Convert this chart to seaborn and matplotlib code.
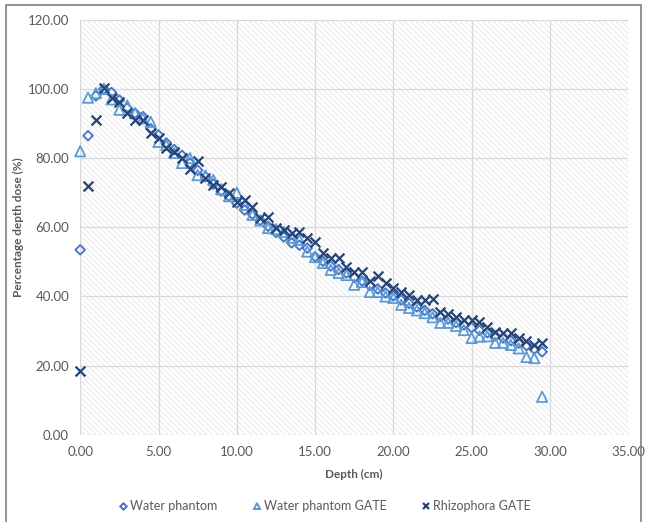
import numpy as np
import pandas as pd
import seaborn as sns
import matplotlib.pyplot as plt
from matplotlib.patches import Rectangle
from matplotlib.lines import Line2D

depth = [0.0, 0.5, 1.0, 1.5, 2.0, 2.5, 3.0, 3.5, 4.0, 4.5,
         5.0, 5.5, 6.0, 6.5, 7.0, 7.5, 8.0, 8.5, 9.0, 9.5,
         10.0, 10.5, 11.0, 11.5, 12.0, 12.5, 13.0, 13.5, 14.0, 14.5,
         15.0, 15.5, 16.0, 16.5, 17.0, 17.5, 18.0, 18.5, 19.0, 19.5,
         20.0, 20.5, 21.0, 21.5, 22.0, 22.5, 23.0, 23.5, 24.0, 24.5,
         25.0, 25.5, 26.0, 26.5, 27.0, 27.5, 28.0, 28.5, 29.0, 29.5]

water = [53.5, 86.5, 98.0, 100.0, 99.0, 96.8, 94.5, 93.0, 92.0, 88.5,
         86.7, 84.4, 82.5, 80.8, 78.6, 76.5, 74.6, 72.5, 70.5, 69.0,
         67.0, 65.0, 63.8, 62.0, 60.3, 58.5, 57.2, 55.5, 54.8, 54.0,
         51.5, 50.2, 48.8, 47.8, 46.8, 45.5, 44.5, 43.2, 42.2, 41.0,
         40.2, 39.0, 38.0, 37.0, 36.0, 35.0, 34.2, 33.5, 32.5, 31.8,
         31.0, 30.2, 29.5, 28.6, 28.0, 27.2, 26.5, 25.8, 24.8, 24.0]

water_gate = [82.0, 97.5, 98.8, 100.0, 97.0, 94.0, 95.2, 93.0, 91.5, 90.5,
              84.7, 83.8, 81.5, 78.6, 80.0, 75.1, 75.0, 73.7, 71.0, 69.0,
              70.0, 66.5, 63.6, 62.0, 59.8, 59.5, 58.7, 57.0, 56.4, 53.0,
              51.4, 49.7, 47.7, 46.8, 46.2, 43.4, 44.2, 41.3, 41.3, 40.0,
              39.6, 37.6, 36.7, 36.0, 35.2, 34.0, 32.4, 32.4, 31.5, 30.3,
              28.0, 28.4, 28.5, 26.6, 26.6, 26.0, 25.0, 22.5, 22.2, 11.0]

rhizophora = [18.5, 72.0, 91.0, 100.3, 97.4, 96.3, 93.0, 91.0, 91.0, 87.3,
              85.8, 83.0, 81.8, 80.0, 77.0, 79.3, 74.3, 72.3, 71.7, 70.0,
              67.3, 68.0, 66.0, 62.7, 63.0, 59.8, 59.2, 58.4, 58.7, 57.0,
              55.8, 52.6, 51.0, 51.0, 48.5, 47.0, 47.0, 44.5, 46.0, 44.0,
              42.5, 41.3, 40.5, 39.0, 39.0, 39.3, 35.5, 34.8, 34.0, 33.2,
              33.2, 32.7, 31.2, 29.8, 29.5, 29.5, 28.0, 27.0, 26.0, 26.6]

df = pd.DataFrame({'depth': depth, 'water': water,
                   'water_gate': water_gate, 'rhizophora': rhizophora})

c_water = '#4472C4'
c_gate = '#5B9BD5'
c_rhiz = '#264478'
txt = '#595959'

sns.set_style('white')
plt.rcParams['font.family'] = ['Lato', 'DejaVu Sans']
plt.rcParams['hatch.linewidth'] = 0.5

fig = plt.figure(figsize=(6.47, 5.22), dpi=100)
ax = fig.add_axes([0.124, 0.167, 0.847, 0.795])

# hatched plot area
ax.add_patch(Rectangle((0, 0), 1, 1, transform=ax.transAxes, facecolor='white',
                       edgecolor='#e2e2e2', hatch='\\\\\\\\\\\\', linewidth=0, zorder=0))

kw = dict(ax=ax, zorder=3, clip_on=False)
sns.scatterplot(data=df, x='depth', y='water', marker='D', s=24,
                facecolors='none', edgecolor=c_water, linewidth=1.3, **kw)
sns.scatterplot(data=df, x='depth', y='water_gate', marker='^', s=55,
                facecolors='none', edgecolor=c_gate, linewidth=1.3, **kw)
sns.scatterplot(data=df, x='depth', y='rhizophora', marker='x', s=50,
                color=c_rhiz, linewidth=1.6, **kw)

ax.set_xlim(0, 35)
ax.set_ylim(0, 120)
ax.set_xticks(np.arange(0, 36, 5))
ax.set_yticks(np.arange(0, 121, 20))
ax.set_xticklabels([f'{v:.2f}' for v in np.arange(0, 36, 5)])
ax.set_yticklabels([f'{v:.2f}' for v in np.arange(0, 121, 20)])
ax.grid(True, color='#d9d9d9', linewidth=0.9)
ax.set_axisbelow(True)
for s in ax.spines.values():
    s.set_visible(False)
ax.tick_params(colors=txt, labelsize=9.5, length=0, pad=8)

ax.set_xlabel('Depth (cm)', fontsize=8.5, fontweight='bold', color=txt, labelpad=8)
ax.set_ylabel('Percentage depth dose (%)', fontsize=8.5, fontweight='bold', color=txt, labelpad=3)

handles = [
    Line2D([], [], marker='D', linestyle='none', markersize=3.3,
           markerfacecolor='none', markeredgecolor=c_water, markeredgewidth=1.4),
    Line2D([], [], marker='^', linestyle='none', markersize=4.5,
           markerfacecolor='none', markeredgecolor=c_gate, markeredgewidth=1.4),
    Line2D([], [], marker='x', linestyle='none', markersize=4.5,
           color=c_rhiz, markeredgewidth=1.6),
]
fig.legend(handles, ['Water phantom', 'Water phantom GATE', 'Rhizophora GATE'],
           loc='center', bbox_to_anchor=(0.5, 0.03), ncol=3, frameon=False,
           fontsize=9, labelcolor=txt, handletextpad=0.0, handlelength=1.1,
           columnspacing=2.6)

# outer frame of the chart
fig.add_artist(Rectangle((6 / 647, -0.01), 635 / 647, 1 - 5 / 522 + 0.01,
                         transform=fig.transFigure, facecolor='none',
                         edgecolor='#7f7f7f', linewidth=1.2))

fig.savefig('out.png', dpi=100)
